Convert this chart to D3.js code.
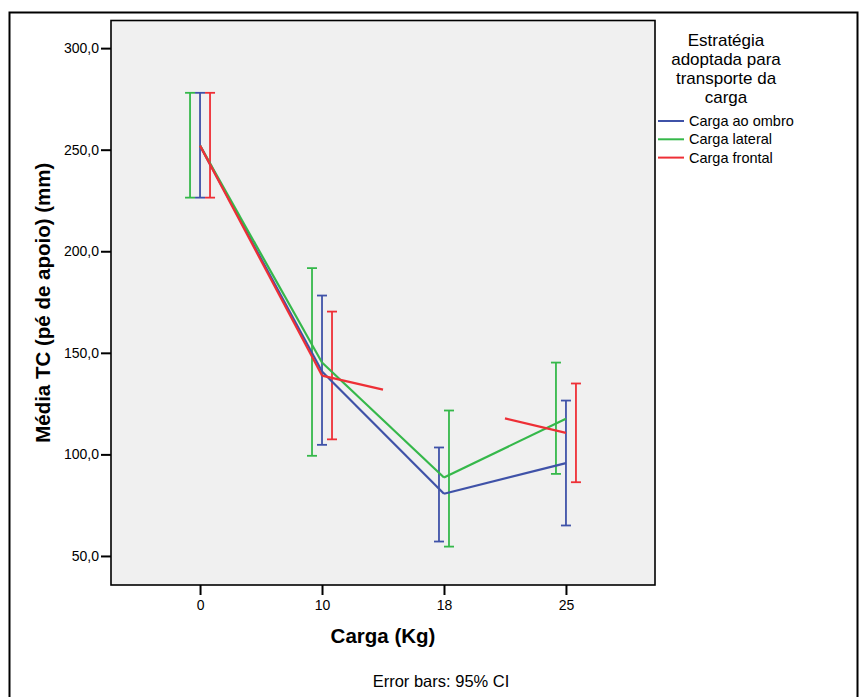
<!DOCTYPE html>
<html>
<head>
<meta charset="utf-8">
<script src="https://cdn.jsdelivr.net/npm/d3@7"></script>
<style>
    body { margin: 0; background: #fff; }
    svg text { font-family: "Liberation Sans", Arial, sans-serif; fill: #000; }
</style>
</head>
<body>
<svg id="chart" width="860" height="697"></svg>
<script>
// categories (Carga em Kg)
const categories = ["0", "10", "18", "25"];

// series names and colours
const seriesNames = ["Carga ao ombro", "Carga lateral", "Carga frontal"];
const seriesColors = ["#3F52A8", "#35B84A", "#EE2F36"];

// means per series
const meanOmbro = [252.0, 140.8, 80.6, 95.7];
const meanLateral = [252.0, 145.2, 88.6, 117.6];
const meanFrontal = [252.0, 138.8, 124.9, 110.6];

// 95% CI bounds (null = no bar drawn)
const lowOmbro = [226.4, 104.7, 57.1, 65.0];
const highOmbro = [278.0, 178.2, 103.4, 126.5];
const lowLateral = [226.4, 99.3, 54.6, 90.4];
const highLateral = [278.0, 191.7, 121.6, 145.2];
const lowFrontal = [226.4, 107.4, null, 86.3];
const highFrontal = [278.0, 170.3, null, 134.9];

// order of the error bars inside each category cluster
const clusterOrder = [
    ["Carga lateral", "Carga ao ombro", "Carga frontal"],
    ["Carga lateral", "Carga ao ombro", "Carga frontal"],
    ["Carga ao ombro", "Carga lateral"],
    ["Carga lateral", "Carga ao ombro", "Carga frontal"]
];

const yTicks = [50, 100, 150, 200, 250, 300];

let series = [
    { name: seriesNames[0], color: seriesColors[0], mean: meanOmbro, low: lowOmbro, high: highOmbro },
    { name: seriesNames[1], color: seriesColors[1], mean: meanLateral, low: lowLateral, high: highLateral },
    { name: seriesNames[2], color: seriesColors[2], mean: meanFrontal, low: lowFrontal, high: highFrontal }
];

let svg = d3.select("#chart");

let plot = { left: 111, top: 20.5, right: 655, bottom: 585 };

// outer frame
svg.append("rect")
    .attr("x", 9.5)
    .attr("y", 12.5)
    .attr("width", 848)
    .attr("height", 720)
    .attr("fill", "none")
    .attr("stroke", "#000")
    .attr("stroke-width", 2);

let x = d3.scalePoint()
    .domain(categories)
    .range([plot.left, plot.right])
    .padding(0.73);

let y = d3.scaleLinear()
    .domain([35.7, 313.6])
    .range([plot.bottom, plot.top]);

// plot background
svg.append("rect")
    .attr("x", plot.left)
    .attr("y", plot.top)
    .attr("width", plot.right - plot.left)
    .attr("height", plot.bottom - plot.top)
    .attr("fill", "#f0f0f0");

// y axis
let yAxis = svg.append("g")
    .attr("transform", `translate(${plot.left},0)`)
    .call(d3.axisLeft(y)
        .tickValues(yTicks)
        .tickSize(10)
        .tickPadding(2)
        .tickFormat(d => d3.format(".1f")(d).replace(".", ",")));
yAxis.select(".domain").remove();
yAxis.selectAll("line").attr("stroke", "#000").attr("stroke-width", 2);
yAxis.selectAll("text").style("font-size", "14px").attr("font-family", null);

// x axis
let xAxis = svg.append("g")
    .attr("transform", `translate(0,${plot.bottom})`)
    .call(d3.axisBottom(x).tickSize(10).tickPadding(5));
xAxis.select(".domain").remove();
xAxis.selectAll("line").attr("stroke", "#000").attr("stroke-width", 2);
xAxis.selectAll("text").style("font-size", "14px").attr("font-family", null);

// error bars
let offset = 10;
let capHalf = 5;
let barGroup = svg.append("g");

categories.forEach((cat, i) => {
    let order = clusterOrder[i];
    order.forEach((name, k) => {
        let s = series.find(d => d.name === name);
        if (s.low[i] === null) return;
        let cx = x(cat) + (k - (order.length - 1) / 2) * offset;
        barGroup.append("line")
            .attr("x1", cx).attr("x2", cx)
            .attr("y1", y(s.low[i])).attr("y2", y(s.high[i]))
            .attr("stroke", s.color).attr("stroke-width", 1.8);
        [s.low[i], s.high[i]].forEach(v => {
            barGroup.append("line")
                .attr("x1", cx - capHalf).attr("x2", cx + capHalf)
                .attr("y1", y(v)).attr("y2", y(v))
                .attr("stroke", s.color).attr("stroke-width", 1.8);
        });
    });
});

// mean lines; a point without CI is not reached, only half of its segments drawn
let lineGroup = svg.append("g");
for (let s of series) {
    for (let i = 0; i < categories.length - 1; i++) {
        let x0 = x(categories[i]), y0 = y(s.mean[i]);
        let x1 = x(categories[i + 1]), y1 = y(s.mean[i + 1]);
        let hide0 = s.low[i] === null, hide1 = s.low[i + 1] === null;
        if (hide0) { x0 = (x0 + x1) / 2; y0 = (y0 + y1) / 2; }
        if (hide1) { x1 = (x(categories[i]) + x1) / 2; y1 = (y(s.mean[i]) + y1) / 2; }
        lineGroup.append("line")
            .attr("x1", x0).attr("y1", y0)
            .attr("x2", x1).attr("y2", y1)
            .attr("stroke", s.color)
            .attr("stroke-width", 2.2);
    }
}

// plot frame
svg.append("rect")
    .attr("x", plot.left)
    .attr("y", plot.top)
    .attr("width", plot.right - plot.left)
    .attr("height", plot.bottom - plot.top)
    .attr("fill", "none")
    .attr("stroke", "#000")
    .attr("stroke-width", 1.6);

// axis titles
svg.append("text")
    .attr("transform", `translate(50,${(plot.top + plot.bottom) / 2}) rotate(-90)`)
    .attr("text-anchor", "middle")
    .style("font-size", "20.5px")
    .style("font-weight", "bold")
    .text("Média TC (pé de apoio) (mm)");

svg.append("text")
    .attr("x", (plot.left + plot.right) / 2)
    .attr("y", 643)
    .attr("text-anchor", "middle")
    .style("font-size", "20.5px")
    .style("font-weight", "bold")
    .text("Carga (Kg)");

svg.append("text")
    .attr("x", 441)
    .attr("y", 687)
    .attr("text-anchor", "middle")
    .style("font-size", "16.5px")
    .text("Error bars: 95% CI");

// legend
let legendTitle = ["Estratégia", "adoptada para", "transporte da", "carga"];
svg.append("g").selectAll("text")
    .data(legendTitle)
    .enter()
    .append("text")
    .attr("x", 726)
    .attr("y", (d, i) => 46 + i * 19)
    .attr("text-anchor", "middle")
    .style("font-size", "17px")
    .text(d => d);

let legend = svg.append("g").selectAll("g")
    .data(series)
    .enter()
    .append("g")
    .attr("transform", (d, i) => `translate(658,${121 + i * 18.3})`);

legend.append("line")
    .attr("x1", 0).attr("x2", 26)
    .attr("stroke", d => d.color)
    .attr("stroke-width", 2);

legend.append("text")
    .attr("x", 31)
    .attr("y", 5)
    .style("font-size", "14.5px")
    .text(d => d.name);
</script>
</body>
</html>
